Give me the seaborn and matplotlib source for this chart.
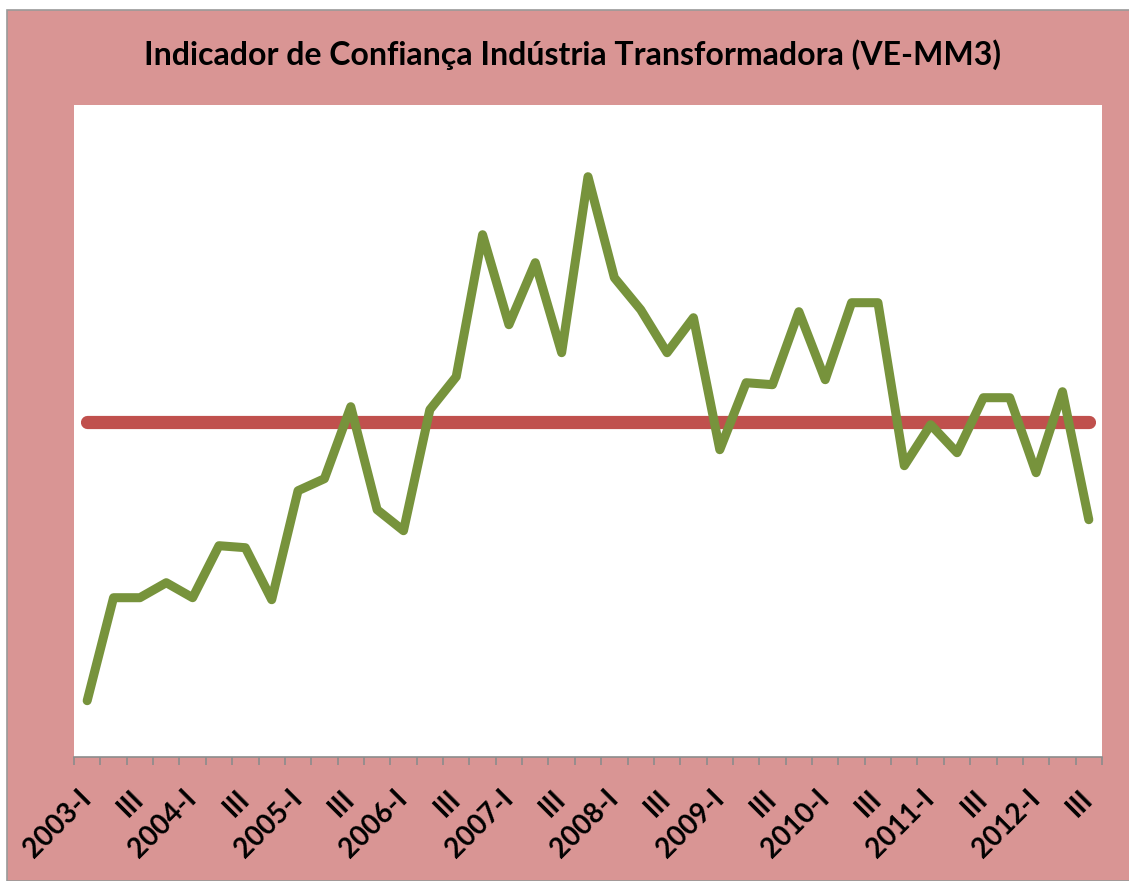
import numpy as np
import pandas as pd
import matplotlib
matplotlib.use("Agg")
import matplotlib.pyplot as plt
import seaborn as sns
from matplotlib.patches import Rectangle

# trimestres 2003-I .. 2012-III
anos = list(range(2003, 2013))
trimestres = ["I", "II", "III", "IV"]
periodos = [f"{a}-{t}" for a in anos for t in trimestres][:39]

# valores (escala arbitrária, 0 = média)
indicador = [-27.9, -17.6, -17.6, -16.1, -17.6, -12.4, -12.6, -17.8, -6.9, -5.7,
             1.5, -8.8, -10.9, 1.2, 4.5, 18.7, 9.7, 15.9, 6.9, 24.5,
             14.4, 11.2, 6.9, 10.4, -2.8, 3.9, 3.7, 11.0, 4.2, 11.9,
             11.9, -4.4, -0.3, -3.1, 2.4, 2.4, -5.1, 3.0, -9.8]
media = [0.0] * len(indicador)

# rótulos: só ano-I e III
rotulos = []
for p in periodos:
    a, t = p.split("-")
    if t == "I":
        rotulos.append(p)
    elif t == "III":
        rotulos.append("III")
    else:
        rotulos.append("")

df = pd.DataFrame({"pos": range(len(periodos)), "indicador": indicador, "media": media})

sns.set_theme(style="white")
plt.rcParams["font.family"] = ["Lato", "DejaVu Sans"]

ROSA = "#D99594"
VERDE = "#77933C"
VERMELHO = "#C0504D"

fig = plt.figure(figsize=(11.29, 8.81), dpi=100, facecolor="white")
# fundo rosa da área do gráfico
fundo = Rectangle((7 / 1129, 0), 1, 1 - 10 / 881, transform=fig.transFigure,
                  facecolor=ROSA, edgecolor="#9a9a9a", linewidth=1.2, zorder=-10)
fig.add_artist(fundo)

ax = fig.add_axes([74 / 1129, 1 - 757 / 881, (1102 - 74) / 1129, (757 - 105) / 881])
ax.set_facecolor("white")
ax.set_zorder(1)

sns.lineplot(data=df, x="pos", y="media", ax=ax, color=VERMELHO, linewidth=9.5,
             solid_capstyle="round")
sns.lineplot(data=df, x="pos", y="indicador", ax=ax, color=VERDE, linewidth=6.5,
             solid_capstyle="round", solid_joinstyle="round")

ax.set_xlim(-0.5, len(periodos) - 0.5)
ax.set_ylim(-33.53, 31.67)
ax.set_yticks([])
ax.set_xlabel("")
ax.set_ylabel("")

for s in ["left", "top", "right"]:
    ax.spines[s].set_visible(False)
ax.spines["bottom"].set_color("#8c8c8c")
ax.spines["bottom"].set_linewidth(1.2)

ax.set_xticks(df["pos"])
ax.set_xticklabels(rotulos, rotation=45, ha="right", va="center", rotation_mode="anchor",
                   fontsize=20, fontweight="bold", color="black")
ax.tick_params(axis="x", which="major", length=0, pad=27)
ax.set_xticks(np.arange(-0.5, len(periodos)), minor=True)
ax.tick_params(axis="x", which="minor", length=6, width=1.2, color="#8c8c8c", direction="out")
ax.tick_params(axis="x", which="both", bottom=True)

fig.text(0.507, 1 - 55 / 881, "Indicador de Confiança Indústria Transformadora (VE-MM3)",
         ha="center", va="center", fontsize=23, fontweight="bold", color="black")

fig.savefig("out.png", dpi=100, facecolor=fig.get_facecolor())
